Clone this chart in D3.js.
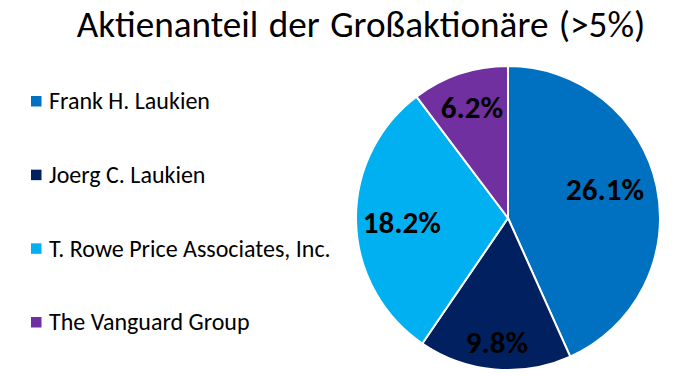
<!DOCTYPE html>
<html><head><meta charset="utf-8">
<script src="https://cdn.jsdelivr.net/npm/d3@7"></script>
<style>body{margin:0;background:#fff}svg{display:block}text{font-family:Carlito,Calibri,Lato,sans-serif}</style>
</head><body>
<svg id="c" width="675" height="376"></svg>
<script>
const title = "Aktienanteil der Großaktionäre (>5%)";
const categories = ["Frank H. Laukien","Joerg C. Laukien","T. Rowe Price Associates, Inc.","The Vanguard Group"];
const values = [26.1, 9.8, 18.2, 6.2];
const colors = ["#0070C0","#002060","#00B0F0","#7030A0"];
// label placement: radius fraction, angle offset (deg)
const labelRadius = [0.665, 0.825, 0.70, 0.765];
const labelAngleOffset = [-4.3, 0, -1.3, 0.4];

const svg = d3.select("#c");
const W = 675, H = 376;
svg.append("rect").attr("width",W).attr("height",H).attr("fill","#fff");

svg.append("text").attr("x",361).attr("y",36.5).attr("text-anchor","middle")
  .attr("font-size",37.2).attr("word-spacing",2).attr("fill","#000").text(title);

const cx = 508, cy = 218, r = 152;
const pie = d3.pie().sort(null).value(d=>d.v);
const data = categories.map((c,i)=>({c, v:values[i], col:colors[i], i}));
const arcs = pie(data);
const arc = d3.arc().innerRadius(0).outerRadius(r);
const g = svg.append("g").attr("transform",`translate(${cx},${cy})`);
g.selectAll("path").data(arcs).join("path")
  .attr("d",arc).attr("fill",d=>d.data.col).attr("stroke","#fff").attr("stroke-width",2);

g.selectAll("text.lbl").data(arcs).join("text").attr("class","lbl")
  .attr("transform",d=>{
    const a = (d.startAngle+d.endAngle)/2 + labelAngleOffset[d.data.i]*Math.PI/180;
    const rr = r*labelRadius[d.data.i];
    return `translate(${rr*Math.sin(a)},${-rr*Math.cos(a)})`;
  })
  .attr("text-anchor","middle").attr("dy","0.33em")
  .attr("font-size",31).attr("font-weight","bold").attr("fill","#000")
  .text(d=>d.data.v.toFixed(1)+"%");

const leg = svg.append("g");
const ly = d3.scalePoint().domain(categories).range([101.5,322.5]);
categories.forEach((c,i)=>{
  leg.append("rect").attr("x",31).attr("y",ly(c)-5.5).attr("width",10.5).attr("height",10.5).attr("fill",colors[i]);
  leg.append("text").attr("x",49).attr("y",ly(c)).attr("dy","0.33em")
    .attr("font-size",24).attr("fill","#000").text(c);
});
</script>
</body></html>
